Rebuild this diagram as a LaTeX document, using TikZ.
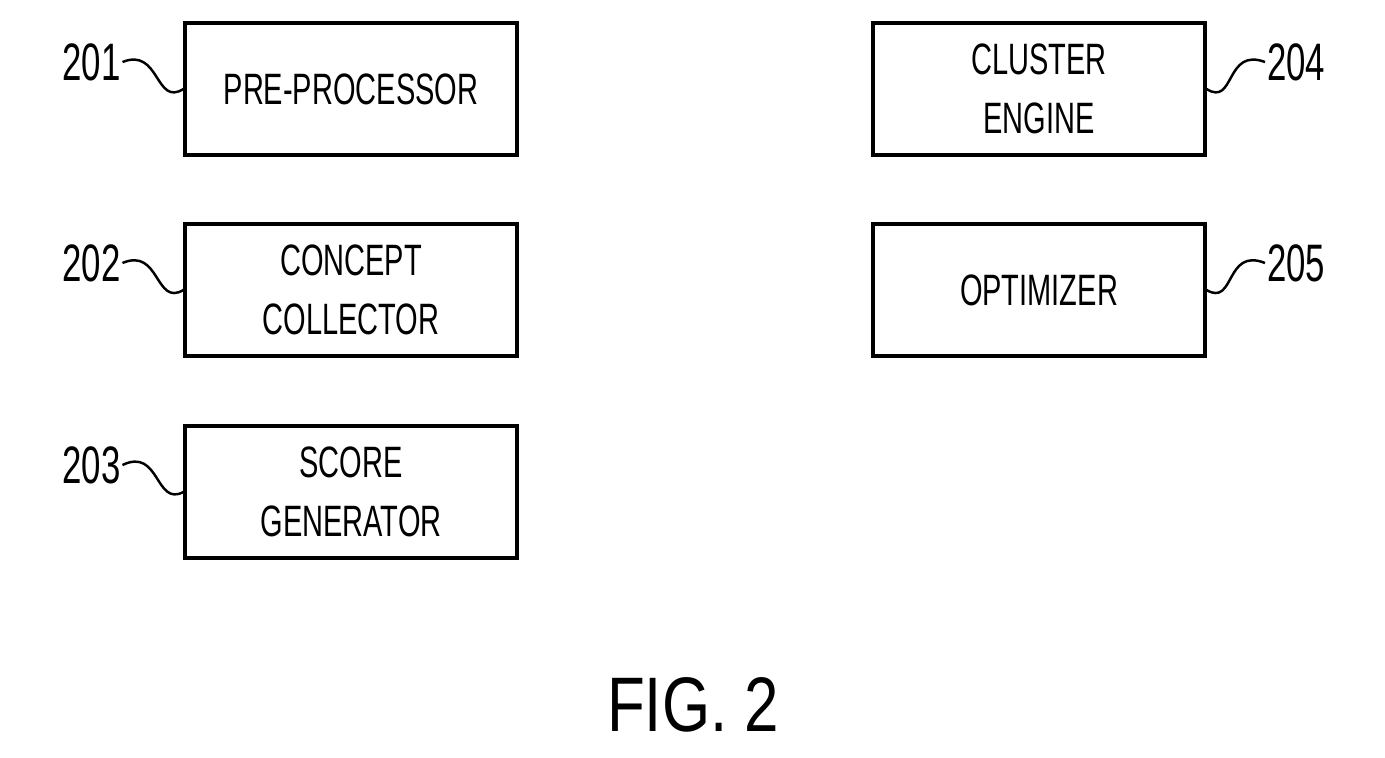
\documentclass[tikz,border=0pt]{standalone}
\usepackage{fontspec}
\setmainfont{Liberation Sans}
\usetikzlibrary{positioning}
\tikzset{
    block/.style={rectangle, draw=black, line width=1.8pt, minimum width=6.64cm, minimum height=2.64cm, align=center, font=\fontsize{25}{34}\selectfont},
    refnum/.style={font=\fontsize{30}{34}\selectfont, inner sep=1pt},
    lead/.style={line width=1.4pt}
}
\newcommand{\narrow}[1]{\scalebox{0.66}[1]{#1}}
\begin{document}
\begin{tikzpicture}
    \useasboundingbox (0,0) rectangle (27.7,15.14);
    % -- left column --
    \node (pre) [block] at (7.02,13.36) {\narrow{PRE-PROCESSOR}};
    \node (concept) [block] at (7.02,9.34) {\narrow{CONCEPT}\\\narrow{COLLECTOR}};
    \node (score) [block] at (7.02,5.30) {\narrow{SCORE}\\\narrow{GENERATOR}};
    % -- right column --
    \node (cluster) [block] at (20.78,13.36) {\narrow{CLUSTER}\\\narrow{ENGINE}};
    \node (optim) [block] at (20.78,9.34) {\narrow{OPTIMIZER}};

    % reference numerals
    \coordinate (c201) at (2.45,13.9);
    \coordinate (c202) at (2.45,9.88);
    \coordinate (c203) at (2.45,5.84);
    \coordinate (c204) at (25.3,13.9);
    \coordinate (c205) at (25.3,9.88);
    \node (n201) [refnum, left=0pt of c201] {\narrow{201}};
    \node (n202) [refnum, left=0pt of c202] {\narrow{202}};
    \node (n203) [refnum, left=0pt of c203] {\narrow{203}};
    \node (n204) [refnum, right=0pt of c204] {\narrow{204}};
    \node (n205) [refnum, right=0pt of c205] {\narrow{205}};

    % leader lines
    \draw [lead] (c201) .. controls (3.2,14.2) and (3.1,13.0) .. (pre.west);
    \draw [lead] (c202) .. controls (3.2,10.2) and (3.1,9.0) .. (concept.west);
    \draw [lead] (c203) .. controls (3.2,6.2) and (3.1,5.0) .. (score.west);
    \draw [lead] (c204) .. controls (24.5,14.2) and (24.7,13.0) .. (cluster.east);
    \draw [lead] (c205) .. controls (24.5,10.2) and (24.7,9.0) .. (optim.east);

    \node (fig) at (13.86,1.05) {\fontsize{44}{50}\selectfont\scalebox{0.8}[1]{FIG. 2}};
\end{tikzpicture}
\end{document}
